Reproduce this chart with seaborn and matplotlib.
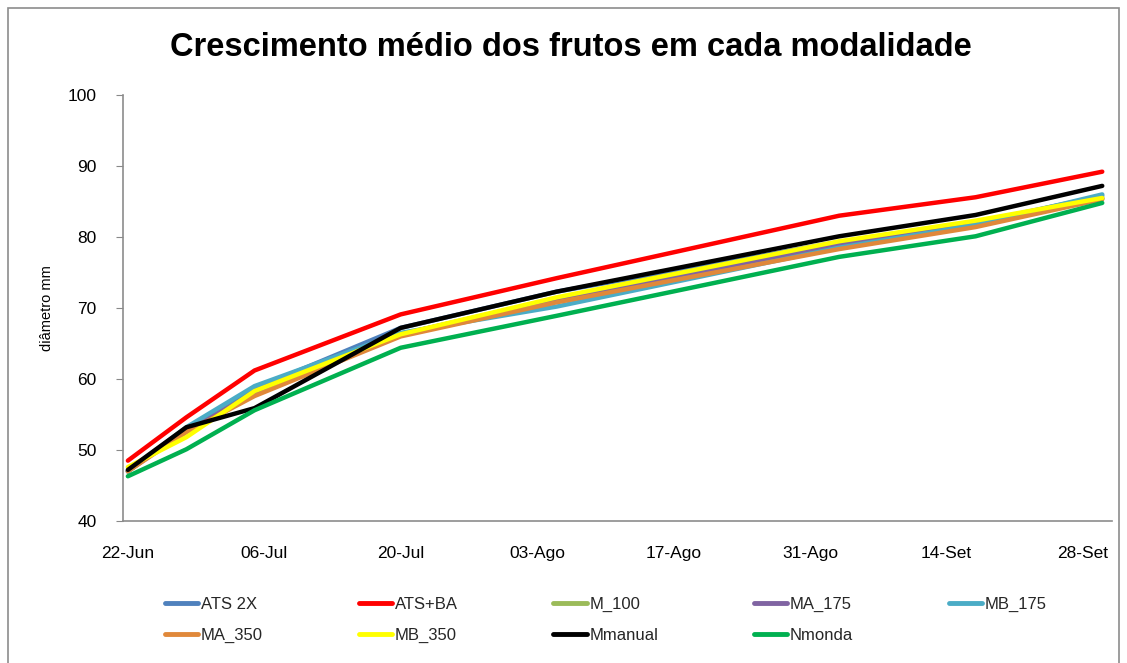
import matplotlib
matplotlib.use("Agg")
import matplotlib.pyplot as plt
from matplotlib.patches import Rectangle
from matplotlib.lines import Line2D
import seaborn as sns
import pandas as pd

# ---------------- data ----------------
dates = ["2012-06-22", "2012-06-28", "2012-07-05", "2012-07-20",
         "2012-08-05", "2012-09-03", "2012-09-17", "2012-09-30"]
series_names = ["ATS 2X", "ATS+BA", "M_100", "MA_175", "MB_175",
                "MA_350", "MB_350", "Mmanual", "Nmonda"]
ats_2x   = [47.0, 53.0, 58.6, 67.2, 72.3, 79.3, 82.0, 85.8]
ats_ba   = [48.5, 54.6, 61.2, 69.1, 74.2, 83.0, 85.6, 89.2]
m_100    = [47.0, 52.8, 58.0, 66.3, 71.2, 78.8, 81.8, 85.5]
ma_175   = [47.0, 52.8, 58.0, 66.3, 71.3, 78.9, 81.8, 85.4]
mb_175   = [47.0, 53.2, 59.0, 66.5, 70.2, 78.5, 81.7, 86.0]
ma_350   = [47.0, 52.5, 57.6, 66.0, 70.8, 78.3, 81.4, 85.3]
mb_350   = [47.6, 51.8, 58.3, 66.3, 71.5, 79.4, 82.3, 85.5]
mmanual  = [47.2, 53.2, 55.9, 67.2, 72.3, 80.1, 83.1, 87.2]
nmonda   = [46.3, 50.1, 55.6, 64.4, 68.9, 77.2, 80.1, 84.8]
series_values = [ats_2x, ats_ba, m_100, ma_175, mb_175, ma_350, mb_350, mmanual, nmonda]
tick_dates = ["2012-06-22", "2012-07-06", "2012-07-20", "2012-08-03",
              "2012-08-17", "2012-08-31", "2012-09-14", "2012-09-28"]
tick_labels = ["22-Jun", "06-Jul", "20-Jul", "03-Ago", "17-Ago", "31-Ago", "14-Set", "28-Set"]
y_ticks = [40, 50, 60, 70, 80, 90, 100]
colors = ["#4F81BD", "#FF0000", "#9BBB59", "#8064A2", "#4BACC6",
          "#E0883A", "#FFFF00", "#000000", "#00B050"]

# -------------- dataframe -------------
rows = []
for name, vals in zip(series_names, series_values):
    for d, v in zip(dates, vals):
        rows.append({"data": pd.Timestamp(d), "diametro": v, "serie": name})
df = pd.DataFrame(rows)

sns.set_theme(style="white")
plt.rcParams["font.family"] = ["Liberation Sans", "DejaVu Sans"]

fig = plt.figure(figsize=(11.27, 6.63), dpi=100)
ax = fig.add_axes([123/1127, 1-521/663, (1112-123)/1127, (521-95)/663])

sns.lineplot(data=df, x="data", y="diametro", hue="serie", hue_order=series_names,
             palette=dict(zip(series_names, colors)), linewidth=3.2, ax=ax,
             legend=False, sort=False, estimator=None)

ax.set_xlim(pd.Timestamp("2012-06-21 12:00"), pd.Timestamp("2012-10-01 00:00"))
ax.set_ylim(40, 100)
ax.set_yticks(y_ticks)
ax.set_yticklabels([str(t) for t in y_ticks], fontsize=12.5, color="black")
ax.set_xticks([pd.Timestamp(t) for t in tick_dates])
ax.set_xticklabels(tick_labels, fontsize=12.5, color="black")
ax.tick_params(axis="x", length=0, pad=18)
ax.tick_params(axis="y", length=5, width=0.8, color="#888888", left=True, pad=14)
ax.set_xlabel("")
ax.set_ylabel("diâmetro mm", fontsize=10.5, color="black", labelpad=10)

for s in ["top", "right"]:
    ax.spines[s].set_visible(False)
for s in ["left", "bottom"]:
    ax.spines[s].set_color("#8C8C8C")
    ax.spines[s].set_linewidth(1.2)

fig.text(571/1127, 1-47/663, "Crescimento médio dos frutos em cada modalidade",
         ha="center", va="center", fontsize=23.5, fontweight="bold", color="black")

# legend (row-major order: reorder for matplotlib's column-major fill)
order = [0, 5, 1, 6, 2, 7, 3, 8, 4]
handles = [Line2D([0], [0], color=colors[i], lw=3.5) for i in order]
labels = [series_names[i] for i in order]
leg = fig.legend(handles, labels, ncol=5, loc="upper left",
                 bbox_to_anchor=(150/1127, 1-582/663), frameon=False,
                 handlelength=2.0, handletextpad=0.15, columnspacing=5.75,
                 labelspacing=0.95, prop={"size": 12})

# outer chart border
fig.patches.append(Rectangle((8/1127, -0.01), (1119-8)/1127, 1-8/663 + 0.01,
                             transform=fig.transFigure, fill=False,
                             edgecolor="#8C8C8C", linewidth=1.2))

fig.savefig("out.png", dpi=100)
